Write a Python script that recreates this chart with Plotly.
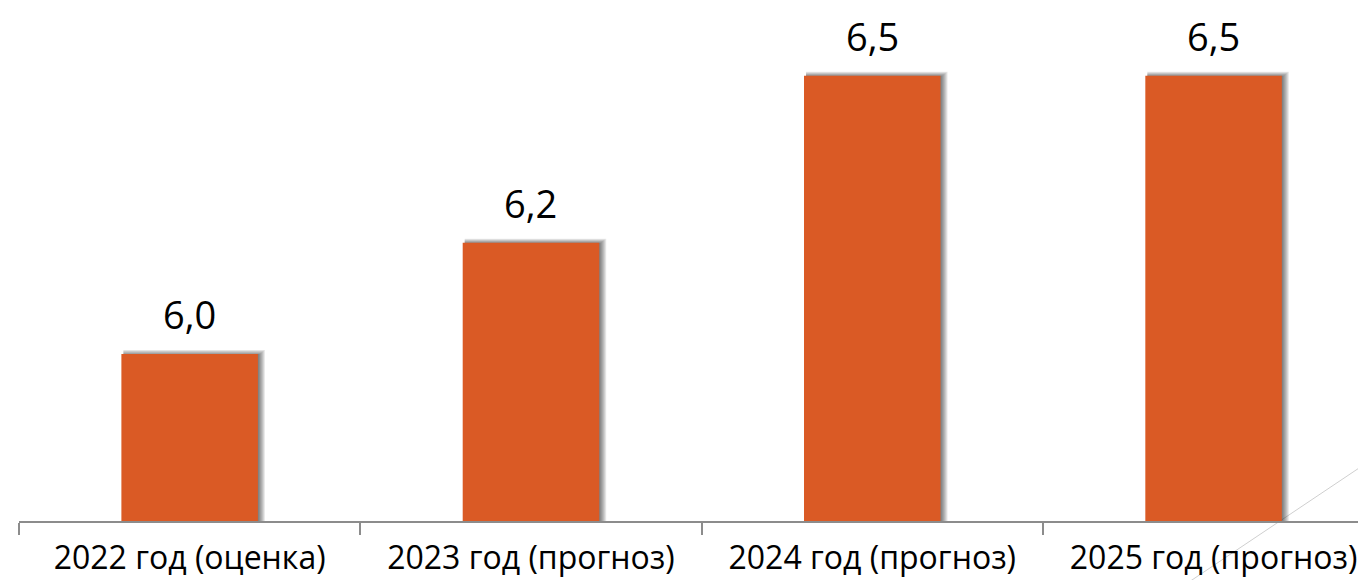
import plotly.graph_objects as go

categories = ["2022 год (оценка)", "2023 год (прогноз)", "2024 год (прогноз)", "2025 год (прогноз)"]
values = [6.0, 6.2, 6.5, 6.5]
value_labels = ["6,0", "6,2", "6,5", "6,5"]

W, H = 1366, 580
ML, MR, MT, MB = 11, 0, 0, 67
Y_MIN = 5.7
PX_PER_UNIT_Y = 556.7
PLOT_H = H - MT - MB
PLOT_W = W - ML - MR
Y_MAX = Y_MIN + PLOT_H / PX_PER_UNIT_Y
X_RANGE = [-0.5, 3.47]
PX_PER_UNIT_X = PLOT_W / (X_RANGE[1] - X_RANGE[0])
px = 1.0 / PX_PER_UNIT_X
py = 1.0 / PX_PER_UNIT_Y

BAR_W = 0.4
BAR_COLOR = "#DA5A25"
FONT = "Open Sans, Lato, sans-serif"

fig = go.Figure()

# soft drop-shadow (stacked translucent layers built from the same data)
for k in range(1, 8):
    top_ext = max(0.0, (k - 2) * 0.8)
    fig.add_trace(go.Bar(
        x=categories,
        y=[v - Y_MIN + top_ext * py for v in values],
        base=[Y_MIN] * len(values),
        width=BAR_W + (k - 2) * px,
        offset=-BAR_W / 2 + 2 * px,
        marker=dict(color="rgba(0,0,0,0.09)", line=dict(width=0)),
        hoverinfo="skip",
        showlegend=False,
    ))

fig.add_trace(go.Bar(
    x=categories,
    y=[v - Y_MIN for v in values],
    base=[Y_MIN] * len(values),
    width=BAR_W,
    offset=-BAR_W / 2,
    marker=dict(color=BAR_COLOR, line=dict(width=0)),
    showlegend=False,
))

for c, v, t in zip(categories, values, value_labels):
    fig.add_annotation(
        x=c, y=v, text=t, showarrow=False,
        xanchor="center", yanchor="bottom", yshift=13, borderpad=0,
        font=dict(family=FONT, size=38, color="#000000"),
    )

# decorative slide line and corner accent
fig.add_shape(type="line", xref="paper", yref="paper",
              x0=(1172 - ML) / PLOT_W, y0=-MB / PLOT_H,
              x1=1.0, y1=(H - MB - 450) / PLOT_H,
              line=dict(color="#cfcfcf", width=1), layer="below")
fig.add_shape(type="path", xref="paper", yref="paper",
              path=f"M {(1356 - ML) / PLOT_W} {-MB / PLOT_H} L 1 {(H - MB - 560) / PLOT_H} L 1 {-MB / PLOT_H} Z",
              fillcolor="#dcebbf", line=dict(width=0), layer="below")

fig.update_layout(
    width=W, height=H,
    margin=dict(l=ML, r=MR, t=MT, b=MB, pad=0),
    paper_bgcolor="white", plot_bgcolor="white",
    barmode="overlay",
    font=dict(family=FONT),
    xaxis=dict(
        type="category", range=X_RANGE,
        showline=True, linecolor="#8c8c8c", linewidth=2,
        ticks="outside", ticklen=12, tickwidth=2, tickcolor="#8c8c8c",
        tickson="boundaries", showgrid=False, zeroline=False,
        tickfont=dict(family=FONT, size=32, color="#000000"),
        ticklabelstandoff=8,
        fixedrange=True,
    ),
    yaxis=dict(range=[Y_MIN, Y_MAX], visible=False, fixedrange=True),
    showlegend=False,
)

fig.write_html("out.html")
